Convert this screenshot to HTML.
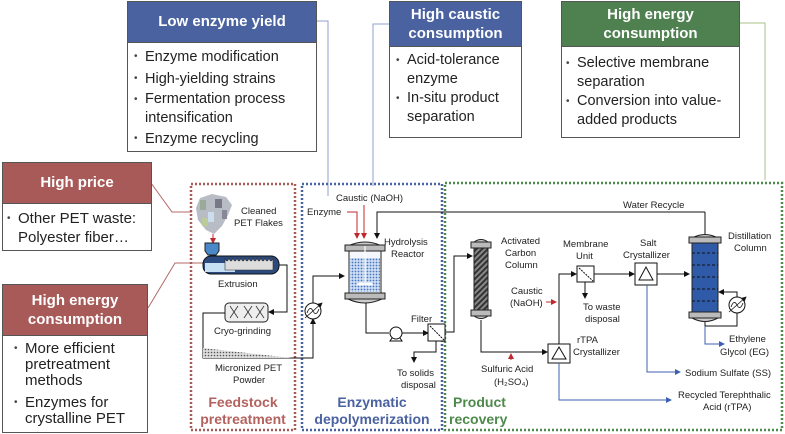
<!DOCTYPE html>
<html><head><meta charset="utf-8"><style>
body{margin:0;background:#fff;width:785px;height:434px;overflow:hidden;font-family:"Liberation Sans",sans-serif}
.b{position:absolute;border:1.5px solid #555;background:#fff;box-sizing:border-box}
.h{color:#fff;font-weight:bold;text-align:center;border-bottom:1.5px solid #555}
ul{margin:0;padding:0;list-style:none;color:#222}
li{position:relative;padding-left:12px}
li:before{content:"•";position:absolute;left:1px;font-size:10px;color:#444}
</style></head><body>
<svg width="785" height="434" style="position:absolute;left:0;top:0" font-family="Liberation Sans, sans-serif">
<defs>
<marker id="a" markerWidth="6" markerHeight="6" refX="5" refY="3" orient="auto"><path d="M0,0L6,3L0,6z" fill="#111"/></marker>
<marker id="r" markerWidth="6" markerHeight="6" refX="5" refY="3" orient="auto"><path d="M0,0L6,3L0,6z" fill="#c0282d"/></marker>
<marker id="bl" markerWidth="6" markerHeight="6" refX="5" refY="3" orient="auto"><path d="M0,0L6,3L0,6z" fill="#3f5fb0"/></marker>
<pattern id="dots" width="3" height="3" patternUnits="userSpaceOnUse"><rect width="3" height="3" fill="#cfe0f4"/><circle cx="1.5" cy="1.5" r="0.9" fill="#4a74c0"/></pattern>
<pattern id="hat" width="4" height="4" patternUnits="userSpaceOnUse" patternTransform="rotate(45)"><rect width="4" height="4" fill="#888"/><rect width="2" height="4" fill="#333"/></pattern>
<pattern id="pw" width="3" height="3" patternUnits="userSpaceOnUse"><rect width="3" height="3" fill="#ddd"/><circle cx="1.5" cy="1.5" r="0.8" fill="#555"/></pattern>
</defs>
<polyline points="316,21 328,21 328,196" fill="none" stroke="#8fa0cc" stroke-width="1"/>
<polyline points="389,24 373,24 373,186" fill="none" stroke="#8fa0cc" stroke-width="1"/>
<polyline points="739,23 765,23 765,180" fill="none" stroke="#a8c088" stroke-width="1"/>
<polyline points="151,183 172,212 192,212" fill="none" stroke="#b06a66" stroke-width="1"/>
<polyline points="148,308 175,263 203,263" fill="none" stroke="#b06a66" stroke-width="1"/>
<rect x="191" y="184" width="104" height="246" fill="none" stroke="#a85a58" stroke-width="2.5" stroke-dasharray="2,2"/>
<rect x="302" y="184" width="140" height="246" fill="none" stroke="#4a62a0" stroke-width="2.5" stroke-dasharray="2,2"/>
<rect x="445" y="183" width="337" height="247" fill="none" stroke="#4e8a4c" stroke-width="2.5" stroke-dasharray="2,2"/>
<g>
<polygon points="200,198 212,194 226,197 232,205 228,215 222,226 214,234 206,230 198,220 196,208" fill="#b8bcc4"/>
<rect x="200" y="200" width="6" height="10" fill="#9a9"/><rect x="215" y="199" width="7" height="9" fill="#778"/><rect x="208" y="212" width="6" height="10" fill="#cde"/><rect x="222" y="210" width="5" height="9" fill="#889"/><rect x="202" y="218" width="6" height="8" fill="#bc9"/>
</g>
<line x1="213" y1="234" x2="213" y2="243" stroke="#c0282d" marker-end="url(#r)"/>
<path d="M205,243 h14 v8 l-3,4 h-8 l-3,-4z" fill="#4a88c8" stroke="#222"/>
<rect x="203" y="256" width="76" height="18" rx="8" fill="#2b4a80" stroke="#111"/>
<rect x="205" y="263" width="30" height="9" fill="#c8e0f4"/>
<path d="M225,258 q2,6 4,0 q2,6 4,0 q2,6 4,0 q2,6 4,0 q2,6 4,0 q2,6 4,0 q2,6 4,0 q2,6 4,0 q2,6 4,0 q2,6 4,0 q2,6 4,0 q2,6 4,0 v12 h-48z" fill="#ddd" stroke="#333" stroke-width="0.6"/>
<text x="218" y="287" font-size="9.5" fill="#222">Extrusion</text>
<polyline points="279,265 287,265 287,312 269,312" fill="none" stroke="#111" marker-end="url(#a)"/>
<rect x="225" y="303" width="43" height="19" rx="4" fill="#eee" stroke="#222"/>
<path d="M230,306 l8,12 M238,306 l-8,12 M244,306 l8,12 M252,306 l-8,12 M256,306 l8,12 M264,306 l-8,12" stroke="#333" stroke-width="0.8"/>
<text x="214" y="334" font-size="9.5" fill="#222">Cryo-grinding</text>
<polyline points="225,313 203,313 203,358 313,358 313,319" fill="none" stroke="#111" marker-end="url(#a)"/>
<polygon points="203,348 203,358 292,358" fill="url(#pw)"/>
<text x="215" y="371" font-size="9.5" fill="#222">Micronized PET</text>
<text x="233" y="383" font-size="9.5" fill="#222">Powder</text>
<text x="241" y="214" font-size="9.5" fill="#222">Cleaned</text>
<text x="234" y="226" font-size="9.5" fill="#222">PET Flakes</text>
<text x="243" y="407" font-size="14" font-weight="bold" fill="#b4625e" text-anchor="middle">Feedstock</text>
<text x="243" y="424" font-size="14" font-weight="bold" fill="#b4625e" text-anchor="middle">pretreatment</text>
<circle cx="313" cy="311" r="8" fill="#fff" stroke="#111"/>
<path d="M307,313 q3,-8 6,-2 q3,6 6,-2" fill="none" stroke="#111" stroke-width="0.8"/>
<line x1="305" y1="318" x2="322" y2="303" stroke="#111" stroke-width="0.8" marker-end="url(#a)"/>
<polyline points="313,303 313,276 344,276" fill="none" stroke="#111" marker-end="url(#a)"/>
<text x="307" y="215" font-size="9.5" fill="#222">Enzyme</text>
<text x="336" y="201" font-size="9.5" fill="#222">Caustic (NaOH)</text>
<polyline points="347,212 357,212 357,238" fill="none" stroke="#c0282d" marker-end="url(#r)"/>
<line x1="364" y1="205" x2="364" y2="238" stroke="#c0282d" marker-end="url(#r)"/>
<polyline points="705,212 377,212 377,238" fill="none" stroke="#111" marker-end="url(#a)"/>
<text x="623" y="208" font-size="9.5" fill="#222">Water Recycle</text>
<polyline points="705,212 705,234" fill="none" stroke="#111"/>
<path d="M348,246 q17,-8 34,0z" fill="#ccc" stroke="#222"/>
<rect x="345" y="245" width="40" height="6" fill="#bbb" stroke="#222"/>
<rect x="349" y="251" width="32" height="42" fill="#f4f8fc" stroke="#222"/>
<rect x="350" y="258" width="30" height="34" fill="url(#dots)"/>
<line x1="365" y1="246" x2="365" y2="285" stroke="#fff" stroke-width="1.2"/>
<ellipse cx="361" cy="284" rx="4" ry="1.5" fill="#fff"/><ellipse cx="369" cy="284" rx="4" ry="1.5" fill="#fff"/>
<rect x="345" y="293" width="40" height="6" fill="#bbb" stroke="#222"/>
<path d="M348,299 q17,8 34,0z" fill="#ccc" stroke="#222"/>
<text x="384" y="245" font-size="9.5" fill="#222">Hydrolysis</text>
<text x="391" y="257" font-size="9.5" fill="#222">Reactor</text>
<polyline points="366,303 366,333 389,333" fill="none" stroke="#111"/>
<circle cx="396" cy="333" r="6" fill="#fff" stroke="#111"/>
<path d="M392,338 l-2,3 h12 l-2,-3" fill="none" stroke="#111"/>
<line x1="402" y1="333" x2="428" y2="333" stroke="#111" marker-end="url(#a)"/>
<rect x="428" y="324" width="17" height="17" fill="#fff" stroke="#111"/>
<line x1="430" y1="326" x2="444" y2="340" stroke="#111" stroke-dasharray="2,1"/>
<text x="411" y="322" font-size="9.5" fill="#222">Filter</text>
<polyline points="436,341 436,352 414,352 414,362" fill="none" stroke="#111" marker-end="url(#a)"/>
<text x="397" y="376" font-size="9.5" fill="#222">To solids</text>
<text x="401" y="388" font-size="9.5" fill="#222">disposal</text>
<text x="372" y="407" font-size="14" font-weight="bold" fill="#4a62a0" text-anchor="middle">Enzymatic</text>
<text x="372" y="424" font-size="14" font-weight="bold" fill="#4a62a0" text-anchor="middle">depolymerization</text>
<polyline points="445,332 454,332 454,256 472,256" fill="none" stroke="#111" marker-end="url(#a)"/>
<path d="M474,242 q7,-5 14,0z" fill="#ccc" stroke="#222"/>
<rect x="471" y="242" width="20" height="6" fill="#bbb" stroke="#222"/>
<rect x="474" y="248" width="14" height="62" fill="url(#hat)" stroke="#222"/>
<rect x="471" y="310" width="20" height="6" fill="#bbb" stroke="#222"/>
<path d="M474,316 q7,5 14,0z" fill="#ccc" stroke="#222"/>
<text x="501" y="244" font-size="9.5" fill="#222">Activated</text>
<text x="505" y="256" font-size="9.5" fill="#222">Carbon</text>
<text x="505" y="268" font-size="9.5" fill="#222">Column</text>
<polyline points="481,320 481,352 547,352" fill="none" stroke="#111" marker-end="url(#a)"/>
<line x1="511" y1="360" x2="511" y2="354" stroke="#c0282d" marker-end="url(#r)"/>
<text x="481" y="372" font-size="9.5" fill="#222">Sulfuric Acid</text>
<text x="494" y="385" font-size="9.5" fill="#222">(H₂SO₄)</text>
<rect x="548" y="344" width="22" height="19" fill="#fff" stroke="#111"/>
<polygon points="552,359 559,347 566,359" fill="none" stroke="#111"/>
<text x="577" y="343" font-size="9.5" fill="#222">rTPA</text>
<text x="573" y="355" font-size="9.5" fill="#222">Crystallizer</text>
<polyline points="559,344 559,274 576,274" fill="none" stroke="#111" marker-end="url(#a)"/>
<line x1="546" y1="302" x2="556" y2="302" stroke="#c0282d" marker-end="url(#r)"/>
<text x="511" y="294" font-size="9.5" fill="#222">Caustic</text>
<text x="510" y="306" font-size="9.5" fill="#222">(NaOH)</text>
<rect x="577" y="266" width="17" height="16" fill="#fff" stroke="#111"/>
<line x1="579" y1="268" x2="593" y2="281" stroke="#111" stroke-dasharray="2,1"/>
<text x="563" y="247" font-size="9.5" fill="#222">Membrane</text>
<text x="576" y="259" font-size="9.5" fill="#222">Unit</text>
<line x1="585" y1="282" x2="585" y2="298" stroke="#111" marker-end="url(#a)"/>
<text x="583" y="310" font-size="9.5" fill="#222">To waste</text>
<text x="585" y="322" font-size="9.5" fill="#222">disposal</text>
<line x1="594" y1="274" x2="634" y2="274" stroke="#111" marker-end="url(#a)"/>
<rect x="635" y="263" width="22" height="22" fill="#fff" stroke="#111"/>
<polygon points="639,280 646,267 653,280" fill="none" stroke="#111"/>
<text x="640" y="246" font-size="9.5" fill="#222">Salt</text>
<text x="623" y="258" font-size="9.5" fill="#222">Crystallizer</text>
<line x1="657" y1="274" x2="689" y2="274" stroke="#111" marker-end="url(#a)"/>
<path d="M692,238 q13,-7 26,0z" fill="#ccc" stroke="#222"/>
<rect x="689" y="237" width="32" height="6" fill="#bbb" stroke="#222"/>
<rect x="692" y="243" width="26" height="69" fill="#2f5aa8" stroke="#222"/>
<g stroke="#111" stroke-dasharray="3,2"><line x1="692" y1="253" x2="718" y2="253"/><line x1="692" y1="265" x2="718" y2="265"/><line x1="692" y1="277" x2="718" y2="277"/><line x1="692" y1="289" x2="718" y2="289"/><line x1="692" y1="301" x2="718" y2="301"/></g>
<rect x="689" y="312" width="32" height="6" fill="#bbb" stroke="#222"/>
<path d="M692,318 q13,7 26,0z" fill="#ccc" stroke="#222"/>
<text x="728" y="239" font-size="9.5" fill="#222">Distillation</text>
<text x="734" y="251" font-size="9.5" fill="#222">Column</text>
<polyline points="705,322 705,326 737,326 737,313" fill="none" stroke="#111"/>
<circle cx="737" cy="305" r="8" fill="#fff" stroke="#111"/>
<path d="M731,307 q3,-8 6,-2 q3,6 6,-2" fill="none" stroke="#111" stroke-width="0.8"/>
<line x1="729" y1="312" x2="746" y2="297" stroke="#111" stroke-width="0.8" marker-end="url(#a)"/>
<polyline points="737,297 737,292 719,292" fill="none" stroke="#111" marker-end="url(#a)"/>
<polyline points="705,326 705,344 724,344" fill="none" stroke="#3f5fb0" marker-end="url(#bl)"/>
<text x="729" y="342" font-size="9.5" fill="#222">Ethylene</text>
<text x="720" y="355" font-size="9.5" fill="#222">Glycol (EG)</text>
<polyline points="647,285 647,372 680,372" fill="none" stroke="#3f5fb0" marker-end="url(#bl)"/>
<text x="685" y="376" font-size="9.5" fill="#222">Sodium Sulfate (SS)</text>
<polyline points="559,363 559,400 671,400" fill="none" stroke="#3f5fb0" marker-end="url(#bl)"/>
<text x="678" y="398" font-size="9.5" fill="#222">Recycled Terephthalic</text>
<text x="703" y="410" font-size="9.5" fill="#222">Acid (rTPA)</text>
<text x="453" y="407" font-size="14" font-weight="bold" fill="#4e8a4c">Product</text>
<text x="449" y="424" font-size="14" font-weight="bold" fill="#4e8a4c">recovery</text>
</svg>

<div class="b" style="left:127px;top:1px;width:190px;height:151px">
<div class="h" style="background:#4a62a0;height:40px;line-height:40px;font-size:15px">Low enzyme yield</div>
<ul style="font-size:14.5px;line-height:22px;padding:3px 0 0 5px">
<li>Enzyme modification</li><li>High-yielding strains</li><li style="line-height:19px">Fermentation process intensification</li><li>Enzyme recycling</li></ul></div>

<div class="b" style="left:389px;top:1px;width:133px;height:137px">
<div class="h" style="background:#4a62a0;height:45px;font-size:15px;line-height:19px;padding-top:3px;box-sizing:border-box">High caustic<br>consumption</div>
<ul style="font-size:14.5px;line-height:19px;padding:4px 0 0 5px">
<li>Acid-tolerance enzyme</li><li>In-situ product separation</li></ul></div>

<div class="b" style="left:561px;top:1px;width:179px;height:137px">
<div class="h" style="background:#4e8050;height:45px;font-size:15px;line-height:19px;padding-top:3px;box-sizing:border-box">High energy<br>consumption</div>
<ul style="font-size:14.5px;line-height:19px;padding:7px 0 0 3px">
<li>Selective membrane separation</li><li>Conversion into value-added products</li></ul></div>

<div class="b" style="left:2px;top:162px;width:150px;height:89px">
<div class="h" style="background:#a85a58;height:40px;line-height:40px;font-size:15px">High price</div>
<ul style="font-size:15px;line-height:19px;padding:5px 0 0 3px">
<li>Other PET waste: Polyester fiber…</li></ul></div>

<div class="b" style="left:2px;top:284px;width:146px;height:149px">
<div class="h" style="background:#a85a58;height:51px;font-size:15px;line-height:19px;padding-top:6px;box-sizing:border-box">High energy<br>consumption</div>
<ul style="font-size:15px;line-height:16px;padding:5px 0 0 10px">
<li>More efficient pretreatment methods</li><li style="margin-top:6px">Enzymes for crystalline PET</li></ul></div>
</body></html>
